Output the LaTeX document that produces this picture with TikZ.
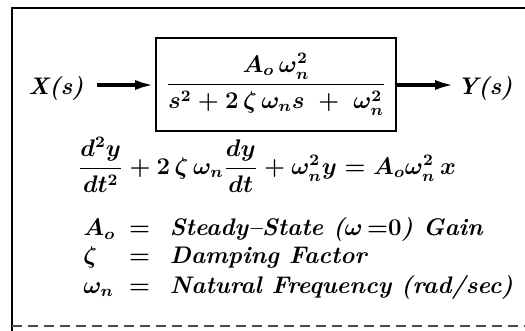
\documentclass[tikz,border=0pt]{standalone}
\usepackage{amsmath}
\usetikzlibrary{arrows.meta}

\begin{document}
\begin{tikzpicture}[x=0.5pt,y=-0.5pt,
  every node/.style={font=\fontsize{12}{12}\selectfont\bfseries\itshape\boldmath},
  sigline/.style={line width=1.9pt,-{Latex[length=10pt,width=5pt]}},
  plantbox/.style={draw,line width=0.9pt,minimum width=120pt,minimum height=46.5pt,inner sep=0pt}]
\useasboundingbox (0,0) rectangle (525,331);

\draw[line width=1.1pt] (525,8) -- (12,8) -- (12,331);
\draw[line width=0.8pt,black!70,dash pattern=on 5pt off 3pt] (12,326) -- (525,326);

\node[plantbox] (plant) at (276,84.5) {$\dfrac{A_o\,\omega_n^2}{s^2+2\,\zeta\,\omega_n s\;+\;\omega_n^2}$};
\node[anchor=base east,inner sep=0pt] (in) at (84,95) {X(s)};
\node[anchor=base west,inner sep=0pt] (out) at (457,95) {Y(s)};

\draw[sigline] (97,85) -- (97,85 -| plant.west);
\draw[sigline] (398,85 -| plant.east) -- (455,85);

\node (ode) at (267,165) {$\dfrac{d^2y}{dt^2}+2\,\zeta\,\omega_n\dfrac{dy}{dt}+\omega_n^2y=A_o\omega_n^2\,x$};

\node[anchor=base west,inner sep=0pt] (defs) at (83,236) {%
  \begin{tabular}[t]{@{}l@{\ \,}l@{\ \ }l@{}}
  $A_o$ & $=$ & Steady--State ($\omega\,{=}0$) Gain\\[2pt]
  $\zeta$ & $=$ & Damping Factor\\[2pt]
  $\omega_n$ & $=$ & Natural Frequency (rad/sec)
  \end{tabular}};

\end{tikzpicture}
\end{document}
